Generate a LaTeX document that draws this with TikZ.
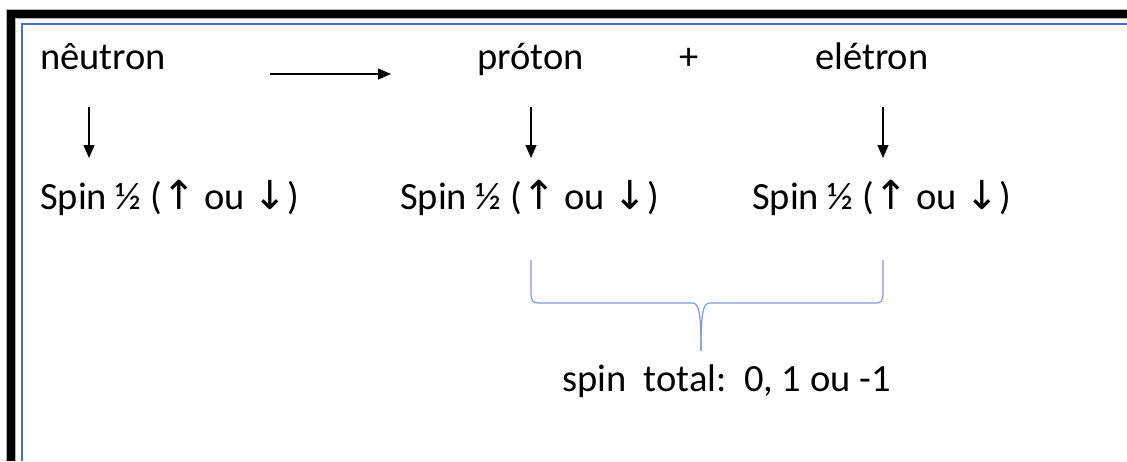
\documentclass[tikz,border=0pt]{standalone}
\usepackage{fontspec}
\setmainfont{Carlito}
\newfontfamily\arrowfont{DejaVu Sans}
\usetikzlibrary{arrows.meta}
\definecolor{bordblue}{HTML}{4472C4}
\definecolor{braceblue}{HTML}{7F9CD6}
\tikzset{
  lbl/.style={anchor=base west, inner sep=0pt, font=\fontsize{38.5}{42}\selectfont},
  conn/.style={line width=1.3pt, -{Triangle[length=13pt,width=11pt]}},
}
\newcommand{\arr}[1]{{\arrowfont\fontsize{40}{44}\selectfont #1}}
\newcommand{\spinline}{Spin ½ (\arr{↑} ou \arr{↓})}
\begin{document}
\begin{tikzpicture}[x=1pt,y=-1pt]
\useasboundingbox (0,0) rectangle (1127,461);
\fill[white] (0,0) rectangle (1127,461);
% borders
\draw[gray!60, line width=10pt] (11,461) -- (11,14) -- (1127,14);
\draw[black, line width=8pt] (11,461) -- (11,14) -- (1127,14);
\draw[bordblue, line width=1.6pt] (22,461) -- (22,24) -- (1127,24);
% texts
\node[lbl] (neutron) at (40,69) {nêutron};
\node[lbl] (proton) at (477,69) {próton};
\node[lbl] (plus) at (679,69) {+};
\node[lbl] (eletron) at (815,69) {elétron};
\node[lbl] (spin1) at (40,209) {\spinline};
\node[lbl] (spin2) at (400,209) {\spinline};
\node[lbl] (spin3) at (752,209) {\spinline};
\node[lbl] (total) at (562,391) {spin\ \ total:\ \ 0, 1 ou -1};
% coordinates
\coordinate (h1) at (270,74);
\coordinate (h2) at (391,74);
\coordinate (a1) at (89,107);
\coordinate (b1) at (89,158);
\coordinate (a2) at (531,107);
\coordinate (b2) at (531,158);
\coordinate (a3) at (883,107);
\coordinate (b3) at (883,158);
% arrows
\draw[conn] (h1) -- (h2);
\draw[conn] (a1) -- (b1);
\draw[conn] (a2) -- (b2);
\draw[conn] (a3) -- (b3);
% brace
\coordinate (brL) at (531,260);
\coordinate (brR) at (883,260);
\coordinate (brM) at (701,351);
\draw[braceblue, line width=1.2pt]
  (brL) -- (531,292) .. controls (531,302) and (533,303) .. (539,303)
  -- (692,303) .. controls (699,303) and (701,312) .. (brM);
\draw[braceblue, line width=1.2pt]
  (brR) -- (883,292) .. controls (883,302) and (881,303) .. (875,303)
  -- (710,303) .. controls (703,303) and (701,312) .. (brM);
\end{tikzpicture}
\end{document}
